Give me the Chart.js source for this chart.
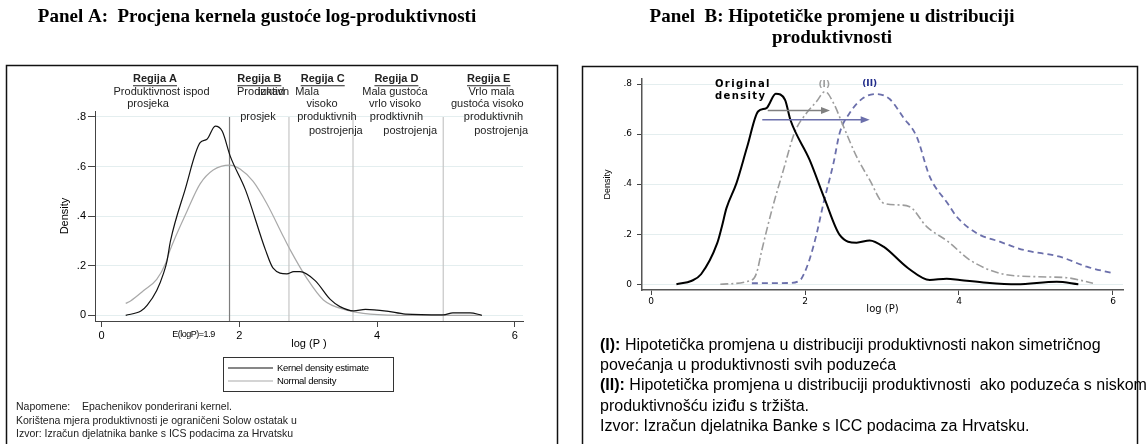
<!DOCTYPE html>
<html><head><meta charset="utf-8">
<script src="https://cdn.jsdelivr.net/npm/chart.js@4/dist/chart.umd.min.js"></script>
<style>
html,body{margin:0;padding:0;background:#fff;}
#wrap{position:relative;width:1146px;height:444px;overflow:hidden;background:#fff;}
.c{position:absolute;top:0;width:573px;height:444px;}
</style></head><body>
<div id="wrap">
<div class="c" style="left:0"><canvas id="ca" width="573" height="444"></canvas></div>
<div class="c" style="left:573px"><canvas id="cb" width="573" height="444"></canvas></div>
</div>
<script>
// ---------------- DATA ----------------
// Panel A: kernel density estimate of log-productivity
const aKernelX = [0.35,0.57,0.66,0.80,0.90,0.95,1.00,1.21,1.43,1.53,1.65,1.75,1.87,2.09,2.38,2.49,2.69,2.79,2.88,3.10,3.32,3.46,3.66,3.83,4.14,4.41,4.96,5.10,5.35,5.52];
const aKernelY = [0.000,0.017,0.040,0.100,0.170,0.220,0.300,0.505,0.696,0.710,0.763,0.743,0.640,0.505,0.263,0.190,0.167,0.176,0.176,0.140,0.064,0.035,0.018,0.024,0.017,0.005,0.002,0.010,0.010,0.000];
// Panel A: normal density
const aNormalX = [0.35,0.42,0.61,0.80,0.93,0.99,1.24,1.43,1.62,1.86,2.01,2.20,2.40,2.64,2.74,2.98,3.22,3.56,3.90,4.50,5.52];
const aNormalY = [0.048,0.058,0.100,0.145,0.210,0.260,0.420,0.530,0.586,0.606,0.590,0.540,0.450,0.317,0.263,0.149,0.062,0.021,0.005,0.000,0.000];
// Panel A: region boundary lines (x values) and their top
const aRegionLinesX = [1.857, 2.72, 3.65, 4.96];
const aRegionLineTop = 0.8;
const aTicksX = [0, 2, 4, 6];
const aTicksY = [0, 0.2, 0.4, 0.6, 0.8];
const aSeriesLabels = ['Kernel density estimate', 'Normal density'];
const aRegionNames = ['Regija A','Regija B','Regija C','Regija D','Regija E'];
const aRegionNameAt = [0.775, 2.29, 3.21, 4.28, 5.62];
const aRowY = [0.952, 0.901, 0.851, 0.799, 0.742];
const aRegionNotes = [
  ['Produktivnost ispod', 0.87, 1, 'center'],
  ['prosjeka', 0.674, 2, 'center'],
  ['Produktivn', 1.966, 1, 'left'],
  ['iznad', 2.27, 1, 'left'],
  ['prosjek', 2.27, 3, 'center'],
  ['Mala', 2.81, 1, 'left'],
  ['visoko', 3.20, 2, 'center'],
  ['produktivnih', 3.27, 3, 'center'],
  ['postrojenja', 3.40, 4, 'center'],
  ['Mala gustoća', 4.26, 1, 'center'],
  ['vrlo visoko', 4.26, 2, 'center'],
  ['prodktivnih', 4.28, 3, 'center'],
  ['postrojenja', 4.48, 4, 'center'],
  ['Vrlo mala', 5.66, 1, 'center'],
  ['gustoća visoko', 5.60, 2, 'center'],
  ['produktivnih', 5.69, 3, 'center'],
  ['postrojenja', 5.80, 4, 'center']
];
const aMeanLabel = 'E(logP)=1.9';
const aMeanLabelAt = 1.334;
const aTitle = 'Panel A:  Procjena kernela gustoće log-produktivnosti';
const aNotes = ['Napomene:    Epachenikov ponderirani kernel.',
  'Korištena mjera produktivnosti je ograničeni Solow ostatak u',
  'Izvor: Izračun djelatnika banke s ICS podacima za Hrvatsku'];

// Panel B: original density and hypothetical shifts
const bOrigX = [0.33,0.53,0.65,0.86,0.92,0.98,1.11,1.25,1.39,1.50,1.62,1.74,1.81,2.06,2.26,2.45,2.67,2.84,3.02,3.34,3.62,3.84,4.01,4.36,4.75,5.27,5.55];
const bOrigY = [0.000,0.014,0.040,0.164,0.230,0.304,0.404,0.550,0.690,0.704,0.761,0.737,0.657,0.497,0.337,0.197,0.166,0.175,0.150,0.064,0.017,0.022,0.017,0.006,0.000,0.010,0.000];
const bShiftX = [0.90,1.31,1.37,1.44,1.57,1.72,1.87,2.02,2.15,2.26,2.37,2.50,2.67,2.84,3.02,3.20,3.36,3.58,3.86,4.14,4.53,5.01,5.40,5.74];
const bShiftY = [0.000,0.017,0.044,0.137,0.297,0.457,0.610,0.684,0.730,0.770,0.724,0.630,0.510,0.417,0.324,0.317,0.310,0.230,0.170,0.097,0.044,0.030,0.026,0.004];
const bExitX = [1.31,1.78,1.94,1.98,2.06,2.15,2.24,2.37,2.45,2.58,2.76,2.93,3.10,3.28,3.45,3.62,3.86,3.97,4.23,4.53,4.84,5.31,5.66,6.00];
const bExitY = [0.004,0.005,0.017,0.037,0.100,0.200,0.324,0.484,0.604,0.684,0.745,0.760,0.740,0.665,0.590,0.430,0.320,0.270,0.204,0.170,0.137,0.110,0.070,0.044];
const bTicksX = [0, 2, 4, 6];
const bTicksY = [0, 0.2, 0.4, 0.6, 0.8];
const bSeriesLabels = ['Original density', '(I)', '(II)'];
// arrows: [fromX, toX, y]
const bArrowShift = [1.516, 2.325, 0.694];
const bArrowExit = [1.445, 2.84, 0.657];
const bTitle = ['Panel  B: Hipotetičke promjene u distribuciji', 'produktivnosti'];
const bNotes = [
  ['(I):', ' Hipotetička promjena u distribuciji produktivnosti nakon simetričnog'],
  ['', 'povećanja u produktivnosti svih poduzeća'],
  ['(II):', ' Hipotetička promjena u distribuciji produktivnosti  ako poduzeća s niskom'],
  ['', 'produktivnošću iziđu s tržišta.'],
  ['', 'Izvor: Izračun djelatnika Banke s ICC podacima za Hrvatsku.']
];

// ---------------- STYLE ----------------
const SANS = '"Liberation Sans", Arial, sans-serif';
const SERIF = '"Liberation Serif", "Times New Roman", serif';
const DV = '"DejaVu Sans", Verdana, sans-serif';
const GRID = '#e4eeef';
const AXIS = '#444';

const zip = (xs, ys) => xs.map((x, i) => ({x: x, y: ys[i]}));
const tickFmt = v => (Math.abs(v) < 1e-9 ? '0' : '.' + Math.round(v * 10));

function txt(ctx, s, x, y, font, color, align, ls) {
  ctx.save();
  ctx.font = font; ctx.fillStyle = color || '#000';
  ctx.textAlign = align || 'left'; ctx.textBaseline = 'middle';
  if (ls) ctx.letterSpacing = ls;
  ctx.fillText(s, x, y);
  ctx.restore();
}

// ---------------- PANEL A ----------------
const aPlugin = {
  id: 'panelA',
  beforeDraw(chart) {
    const ctx = chart.ctx;
    ctx.save();
    ctx.fillStyle = '#fff'; ctx.fillRect(0, 0, chart.width, chart.height);
    ctx.strokeStyle = '#111'; ctx.lineWidth = 1.5;
    ctx.strokeRect(6.5, 65.5, 551, 500);
    ctx.restore();
  },
  afterDraw(chart) {
    const ctx = chart.ctx, xs = chart.scales.x, ys = chart.scales.y;
    txt(ctx, aTitle, 257, 17, 'bold 19px ' + SERIF, '#000', 'center');
    aRegionNames.forEach((n, i) => {
      const x = xs.getPixelForValue(aRegionNameAt[i]), y = ys.getPixelForValue(aRowY[0]);
      txt(ctx, n, x, y, 'bold 11px ' + SANS, '#222', 'center');
      ctx.save(); ctx.font = 'bold 11px ' + SANS;
      const w = ctx.measureText(n).width;
      ctx.strokeStyle = '#222'; ctx.lineWidth = 1.2;
      ctx.beginPath(); ctx.moveTo(x - w / 2, y + 6.5); ctx.lineTo(x + w / 2, y + 6.5); ctx.stroke();
      ctx.restore();
    });
    aRegionNotes.forEach(r => {
      txt(ctx, r[0], xs.getPixelForValue(r[1]), ys.getPixelForValue(aRowY[r[2]]), '11px ' + SANS, '#222', r[3]);
    });
    txt(ctx, aMeanLabel, xs.getPixelForValue(aMeanLabelAt), xs.top + 14, '9px ' + SANS, '#000', 'center', '-0.5px');
    const ds = chart.data.datasets;
    ctx.save();
    ctx.strokeStyle = '#333'; ctx.lineWidth = 1;
    ctx.strokeRect(223.5, 357.5, 170, 34);
    [0, 1].forEach(i => {
      const y = 368 + i * 13;
      ctx.strokeStyle = ds[i].borderColor; ctx.lineWidth = 1.2;
      ctx.beginPath(); ctx.moveTo(228, y); ctx.lineTo(273, y); ctx.stroke();
      txt(ctx, aSeriesLabels[i], 277, y, '9.5px ' + SANS, '#000', 'left', '-0.3px');
    });
    ctx.restore();
    aNotes.forEach((s, i) => txt(ctx, s, 16, [407, 421, 434][i], '10.5px ' + SANS, '#222', 'left'));
  }
};

const aDatasets = [
  {label: aSeriesLabels[0], data: zip(aKernelX, aKernelY), borderColor: '#111', borderWidth: 1.2},
  {label: aSeriesLabels[1], data: zip(aNormalX, aNormalY), borderColor: '#a9a9a9', borderWidth: 1.2}
].concat(aRegionLinesX.map((v, i) => ({
  label: 'line' + i, data: [{x: v, y: -0.023}, {x: v, y: aRegionLineTop}],
  borderColor: i === 0 ? '#7d7d7d' : '#c6c6c6', borderWidth: 1.2, cubicInterpolationMode: 'default', tension: 0
})));
aDatasets.forEach(d => { d.pointRadius = 0; d.fill = false; if (!d.cubicInterpolationMode) d.cubicInterpolationMode = 'monotone'; });

new Chart(document.getElementById('ca'), {
  type: 'line',
  data: {datasets: aDatasets},
  options: {
    responsive: false, animation: false, devicePixelRatio: 1,
    layout: {padding: {left: 58, right: 50, top: 111, bottom: 88}},
    plugins: {legend: {display: false}, tooltip: {enabled: false}, title: {display: false}},
    scales: {
      x: {
        type: 'linear', min: -0.096, max: 6.118,
        afterBuildTicks: s => { s.ticks = aTicksX.map(v => ({value: v})); },
        afterFit: s => { s.height = 35; },
        ticks: {font: {family: SANS, size: 11}, color: '#000', padding: 2, maxRotation: 0, autoSkip: false, callback: v => String(v)},
        grid: {drawOnChartArea: false, drawTicks: true, tickLength: 6, color: AXIS, tickColor: AXIS},
        border: {display: true, color: AXIS, width: 1},
        title: {display: true, text: 'log (P )', font: {family: SANS, size: 11}, color: '#000', padding: {top: 0, bottom: 5}}
      },
      y: {
        type: 'linear', min: -0.023, max: 0.824,
        afterBuildTicks: s => { s.ticks = aTicksY.map(v => ({value: v})); },
        afterFit: s => { s.width = 37; },
        ticks: {font: {family: SANS, size: 11}, color: '#000', padding: 2, callback: tickFmt},
        grid: {color: GRID, tickColor: AXIS, tickLength: 7, drawTicks: true},
        border: {display: true, color: AXIS, width: 1},
        title: {display: true, text: 'Density', font: {family: SANS, size: 11}, color: '#000', padding: 0}
      }
    }
  },
  plugins: [aPlugin]
});

// ---------------- PANEL B ----------------
function arrow(ctx, xs, ys, a, color) {
  const x0 = xs.getPixelForValue(a[0]), x1 = xs.getPixelForValue(a[1]), y = ys.getPixelForValue(a[2]);
  ctx.save();
  ctx.strokeStyle = color; ctx.fillStyle = color; ctx.lineWidth = 1.5;
  ctx.beginPath(); ctx.moveTo(x0, y); ctx.lineTo(x1 - 6, y); ctx.stroke();
  ctx.beginPath(); ctx.moveTo(x1, y); ctx.lineTo(x1 - 9, y - 3.5); ctx.lineTo(x1 - 9, y + 3.5); ctx.closePath(); ctx.fill();
  ctx.restore();
}

const bPlugin = {
  id: 'panelB',
  beforeDraw(chart) {
    const ctx = chart.ctx;
    ctx.save();
    ctx.fillStyle = '#fff'; ctx.fillRect(0, 0, chart.width, chart.height);
    ctx.strokeStyle = '#111'; ctx.lineWidth = 1.5;
    ctx.strokeRect(9.5, 66.5, 555, 500);
    ctx.restore();
  },
  afterDraw(chart) {
    const ctx = chart.ctx, xs = chart.scales.x, ys = chart.scales.y;
    txt(ctx, bTitle[0], 259, 17, 'bold 19px ' + SERIF, '#000', 'center');
    txt(ctx, bTitle[1], 259, 38, 'bold 19px ' + SERIF, '#000', 'center');
    txt(ctx, 'Original', xs.getPixelForValue(0.83), ys.getPixelForValue(0.797), 'bold 10px ' + DV, '#000', 'left', '1.4px');
    txt(ctx, 'density', xs.getPixelForValue(0.83), ys.getPixelForValue(0.750), 'bold 10px ' + DV, '#000', 'left', '1.4px');
    txt(ctx, bSeriesLabels[1], xs.getPixelForValue(2.25), ys.getPixelForValue(0.797), 'bold 9px ' + DV, '#a0a0a0', 'center');
    txt(ctx, bSeriesLabels[2], xs.getPixelForValue(2.84), ys.getPixelForValue(0.800), 'bold 9px ' + DV, '#1f2a8a', 'center');
    arrow(ctx, xs, ys, bArrowShift, '#808080');
    arrow(ctx, xs, ys, bArrowExit, '#6b6fab');
    const ny = [346, 366, 386, 406.5, 426.5];
    bNotes.forEach((n, i) => {
      let x = 27;
      if (n[0]) {
        txt(ctx, n[0], x, ny[i], 'bold 16px ' + SANS, '#000', 'left');
        ctx.save(); ctx.font = 'bold 16px ' + SANS; x += ctx.measureText(n[0]).width; ctx.restore();
      }
      txt(ctx, n[1], x, ny[i], '16px ' + SANS, '#000', 'left');
    });
  }
};

const bDatasets = [
  {label: bSeriesLabels[0], data: zip(bOrigX, bOrigY), borderColor: '#000', borderWidth: 2},
  {label: bSeriesLabels[1], data: zip(bShiftX, bShiftY), borderColor: '#9c9c9c', borderWidth: 1.6, borderDash: [8, 3, 2, 3]},
  {label: bSeriesLabels[2], data: zip(bExitX, bExitY), borderColor: '#6b6fab', borderWidth: 1.8, borderDash: [6, 4]}
];
bDatasets.forEach(d => { d.pointRadius = 0; d.fill = false; d.cubicInterpolationMode = 'monotone'; });

new Chart(document.getElementById('cb'), {
  type: 'line',
  data: {datasets: bDatasets},
  options: {
    responsive: false, animation: false, devicePixelRatio: 1,
    layout: {padding: {left: 29, right: 23, top: 79, bottom: 128}},
    plugins: {legend: {display: false}, tooltip: {enabled: false}, title: {display: false}},
    scales: {
      x: {
        type: 'linear', min: -0.117, max: 6.13,
        afterBuildTicks: s => { s.ticks = bTicksX.map(v => ({value: v})); },
        afterFit: s => { s.height = 26; },
        ticks: {font: {family: DV, size: 9}, color: '#000', padding: 1, maxRotation: 0, autoSkip: false, callback: v => String(v)},
        grid: {drawOnChartArea: false, drawTicks: true, tickLength: 5, color: AXIS, tickColor: AXIS},
        border: {display: true, color: '#555', width: 1.5},
        title: {display: true, text: 'log (P)', font: {family: DV, size: 10}, color: '#000', padding: {top: 0, bottom: 1}}
      },
      y: {
        type: 'linear', min: -0.023, max: 0.82,
        afterBuildTicks: s => { s.ticks = bTicksY.map(v => ({value: v})); },
        afterFit: s => { s.width = 40; },
        ticks: {font: {family: DV, size: 9}, color: '#000', padding: 5, callback: tickFmt},
        grid: {color: GRID, tickColor: AXIS, tickLength: 5, drawTicks: true},
        border: {display: true, color: '#555', width: 1.5},
        title: {display: true, text: 'Density', font: {family: '"Liberation Sans Narrow", ' + SANS, size: 9}, color: '#000', padding: 0}
      }
    }
  },
  plugins: [bPlugin]
});
</script>
</body></html>
